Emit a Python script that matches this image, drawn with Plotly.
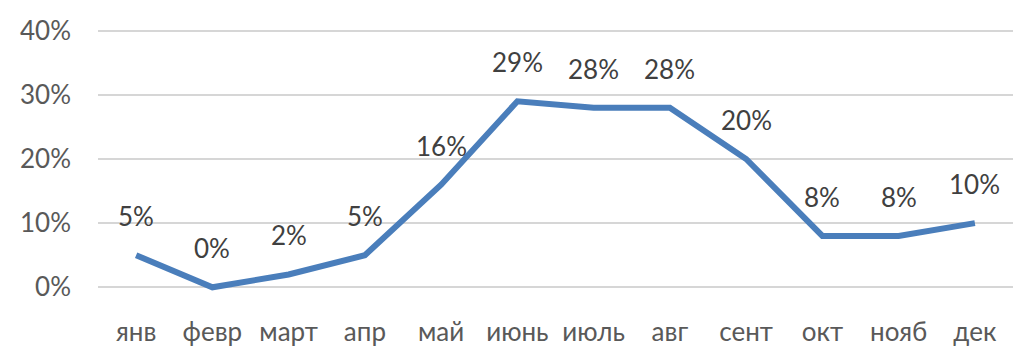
import plotly.graph_objects as go

months = ["янв", "февр", "март", "апр", "май", "июнь", "июль", "авг", "сент", "окт", "нояб", "дек"]
values = [0.05, 0.00, 0.02, 0.05, 0.16, 0.29, 0.28, 0.28, 0.20, 0.08, 0.08, 0.10]
ytick_vals = [0, 0.1, 0.2, 0.3, 0.4]
ytick_text = ["0%", "10%", "20%", "30%", "40%"]

FONT = "Lato, 'Open Sans', sans-serif"

fig = go.Figure()
fig.add_trace(go.Scatter(
    x=months, y=values, mode="lines",
    line=dict(color="#4a7ebb", width=6),
    hoverinfo="skip",
))

for m, v in zip(months, values):
    fig.add_annotation(
        x=m, y=v, text=f"{round(v*100)}%", showarrow=False,
        yshift=39, font=dict(family=FONT, size=26, color="#404040"),
    )

fig.update_layout(
    width=1024, height=353,
    margin=dict(l=98, r=11, t=23, b=58),
    paper_bgcolor="white", plot_bgcolor="white",
    showlegend=False,
    font=dict(family=FONT, size=26, color="#595959"),
)
fig.update_xaxes(
    type="category", range=[-0.5, 11.5], showgrid=False, zeroline=False,
    showline=False, ticks="", ticklabelstandoff=19, automargin=False,
    tickfont=dict(family=FONT, size=26, color="#595959"),
)
fig.update_yaxes(
    range=[-0.012, 0.412], tickvals=ytick_vals, ticktext=ytick_text,
    showgrid=True, gridcolor="#d6d6d6", gridwidth=1.5, zeroline=False,
    showline=False, ticks="", ticklabelstandoff=26, automargin=False,
    tickfont=dict(family=FONT, size=26, color="#595959"),
)

fig.write_html("out.html")
